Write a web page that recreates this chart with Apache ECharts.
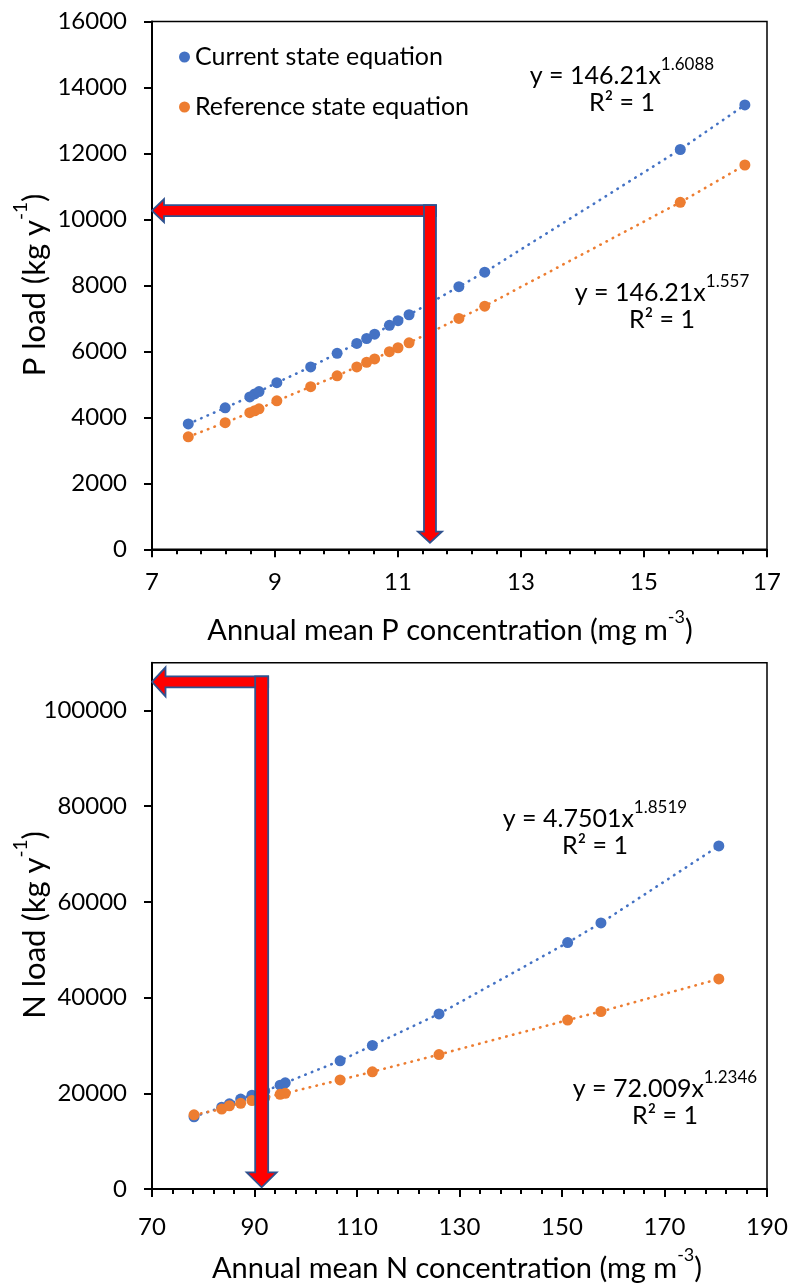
<!DOCTYPE html>
<html><head><meta charset="utf-8">
<script src="https://cdn.jsdelivr.net/npm/echarts@6/dist/echarts.min.js"></script>
<style>html,body{margin:0;padding:0;background:#fff}#c{width:792px;height:1287px}</style>
</head><body><div id="c"></div>
<script>
// ---- data ----
const pConc = [7.59, 8.19, 8.59, 8.67, 8.74, 9.03, 9.58, 10.01, 10.33, 10.49, 10.62, 10.86, 11.00, 11.18, 11.99, 12.41, 15.59, 16.64];
const pLoadCurrent = [3800, 4290, 4620, 4710, 4780, 5050, 5530, 5940, 6240, 6390, 6520, 6790, 6930, 7110, 7960, 8400, 12120, 13470];
const pLoadReference = [3410, 3840, 4140, 4200, 4260, 4500, 4930, 5260, 5530, 5670, 5770, 5990, 6110, 6260, 7000, 7370, 10520, 11650];
const nConc = [78.2, 83.6, 85.1, 87.3, 89.5, 92.0, 95.0, 96.0, 106.7, 113.0, 126.0, 151.1, 157.6, 180.6];
const nLoadCurrent = [15100, 17100, 17800, 18800, 19600, 20500, 21700, 22200, 26800, 30000, 36600, 51500, 55600, 71700];
const nLoadReference = [15500, 16700, 17400, 17900, 18500, 19100, 19800, 20000, 22800, 24500, 28100, 35300, 37100, 43900];

const seriesNames = ['Current state equation', 'Reference state equation'];
const pXTicks = [7, 9, 11, 13, 15, 17];
const pYTicks = [0, 2000, 4000, 6000, 8000, 10000, 12000, 14000, 16000];
const nXTicks = [70, 90, 110, 130, 150, 170, 190];
const nYTicks = [0, 20000, 40000, 60000, 80000, 100000];
const nYMax = 110000;

const eqTop = [['146.21', '1.6088'], ['146.21', '1.557']];
const eqBottom = [['4.7501', '1.8519'], ['72.009', '1.2346']];

// red arrow annotations (in data units)
const pArrow = {x: 11.52, y: 10265, xTip: 7.0, yTip: 200};
const nArrow = {x: 91.4, y: 106000, xTip: 70.0, yTip: 360};

const FONT = 'Lato';
const BLUE = '#4472C4', ORANGE = '#ED7D31';

const chart = echarts.init(document.getElementById('c'), null, {renderer: 'canvas'});

function zip(a, b) { return a.map((v, i) => [v, b[i]]); }
function mkSeries(name, xs, ys, color, gi) {
  return {
    name, type: 'line', xAxisIndex: gi, yAxisIndex: gi,
    data: zip(xs, ys), symbol: 'circle', symbolSize: 11,
    itemStyle: {color}, lineStyle: {color, width: 2.6, type: [0.5, 6.5], cap: 'round'},
    emphasis: {disabled: true}, animation: false
  };
}
function xAxisCfg(ticks, gi, margin) {
  return {
    type: 'value', gridIndex: gi, min: ticks[0], max: ticks[ticks.length - 1],
    interval: ticks[1] - ticks[0],
    axisLine: {show: true, lineStyle: {color: '#000', width: 2}},
    axisTick: {show: true, length: 8, lineStyle: {color: '#000', width: 2}},
    minorTick: {show: true, splitNumber: 5, length: 5, lineStyle: {color: '#000', width: 2}},
    splitLine: {show: false},
    axisLabel: {fontFamily: FONT, fontSize: 24, color: '#000', margin: margin, formatter: v => String(v)}
  };
}
function yAxisCfg(ticks, max, gi) {
  return {
    type: 'value', gridIndex: gi, min: ticks[0], max: max,
    interval: ticks[1] - ticks[0],
    axisLine: {show: true, lineStyle: {color: '#000', width: 2}},
    axisTick: {show: true, length: 8, lineStyle: {color: '#000', width: 2}},
    splitLine: {show: false},
    axisLabel: {fontFamily: FONT, fontSize: 24, color: '#000', margin: 25, showMaxLabel: max === ticks[ticks.length - 1],
      formatter: v => String(v)}
  };
}

chart.setOption({
  animation: false,
  backgroundColor: '#fff',
  grid: [
    {left: 152, top: 21.5, width: 615, height: 527.8, show: true, borderColor: '#000', borderWidth: 1.5, backgroundColor: 'transparent'},
    {left: 152, top: 662.7, width: 615, height: 526.3, show: true, borderColor: '#000', borderWidth: 1.5, backgroundColor: 'transparent'}
  ],
  xAxis: [xAxisCfg(pXTicks, 0, 21), xAxisCfg(nXTicks, 1, 26)],
  yAxis: [yAxisCfg(pYTicks, pYTicks[pYTicks.length - 1], 0), yAxisCfg(nYTicks, nYMax, 1)],
  legend: {
    orient: 'vertical', left: 174, top: 37, icon: 'circle', itemWidth: 11, itemHeight: 11, itemGap: 20,
    data: seriesNames, selectedMode: false,
    textStyle: {fontFamily: FONT, fontSize: 25, color: '#000', lineHeight: 30}
  },
  series: [
    mkSeries(seriesNames[0], pConc, pLoadCurrent, BLUE, 0),
    mkSeries(seriesNames[1], pConc, pLoadReference, ORANGE, 0),
    mkSeries(seriesNames[0], nConc, nLoadCurrent, BLUE, 1),
    mkSeries(seriesNames[1], nConc, nLoadReference, ORANGE, 1)
  ]
});

function eqText(coef, exp, cx, cy) {
  return [
    {type: 'text', x: cx, y: cy, z: 50, style: {
      text: '{n|y = ' + coef + 'x}{s|' + exp + '}', align: 'center', verticalAlign: 'middle',
      rich: {n: {fontFamily: FONT, fontSize: 25, fill: '#000', lineHeight: 32, verticalAlign: 'bottom'},
             s: {fontFamily: FONT, fontSize: 17, fill: '#000', lineHeight: 32, verticalAlign: 'top', padding: [0, 0, 8, 0]}}
    }},
    {type: 'text', x: cx, y: cy + 31, z: 50, style: {
      text: 'R² = 1', align: 'center', verticalAlign: 'middle', fontFamily: FONT, fontSize: 25, fill: '#000'
    }}
  ];
}
function supTitle(main, sup, tail, cx, cy, rot, fs) {
  return {type: 'text', x: cx, y: cy, rotation: rot, z: 50, style: {
    text: '{a|' + main + '}{s|' + sup + '}{a|' + tail + '}', align: 'center', verticalAlign: 'middle',
    rich: {a: {fontFamily: FONT, fontSize: fs, fill: '#000', lineHeight: fs + 8, verticalAlign: 'bottom'},
           s: {fontFamily: FONT, fontSize: Math.round(fs * 0.62), fill: '#000', lineHeight: fs + 8, verticalAlign: 'top', padding: [0, 0, 8, 0]}}
  }};
}
function arrows(gi, a, dims) {
  const c = chart.convertToPixel({gridIndex: gi}, [a.x, a.y]);
  const tipL = chart.convertToPixel({gridIndex: gi}, [a.xTip, a.y]);
  const tipD = chart.convertToPixel({gridIndex: gi}, [a.x, a.yTip]);
  const xc = c[0], yc = c[1];
  const hh = dims.hh, HH = dims.HH, LH = dims.LH, hv = dims.hv, HV = dims.HV, LV = dims.LV;
  const xt = tipL[0], yt = tipD[1];
  const style = {fill: '#FF0000', stroke: '#2F528F', lineWidth: 1.8, lineJoin: 'miter'};
  const horiz = [[xt, yc], [xt + LH, yc - HH], [xt + LH, yc - hh], [xc + hv, yc - hh], [xc + hv, yc + hh], [xt + LH, yc + hh], [xt + LH, yc + HH]];
  const vert = [[xc - hv, yc - hh], [xc + hv, yc - hh], [xc + hv, yt - LV], [xc + HV, yt - LV], [xc, yt], [xc - HV, yt - LV], [xc - hv, yt - LV]];
  return [
    {type: 'polygon', z: 40, shape: {points: horiz}, style},
    {type: 'polygon', z: 41, shape: {points: vert}, style}
  ];
}

const g = [];
g.push(...arrows(0, pArrow, {hh: 5.5, HH: 11.5, LH: 12, hv: 6, HV: 12, LV: 11}));
g.push(...arrows(1, nArrow, {hh: 5.5, HH: 14.5, LH: 13.5, hv: 6.5, HV: 15, LV: 15}));
g.push(...eqText(eqTop[0][0], eqTop[0][1], 622, 72));
g.push(...eqText(eqTop[1][0], eqTop[1][1], 662, 289));
g.push(...eqText(eqBottom[0][0], eqBottom[0][1], 595, 815));
g.push(...eqText(eqBottom[1][0], eqBottom[1][1], 665, 1085));
g.push(supTitle('Annual mean P concentration (mg m', '-3', ')', 450, 627, 0, 29));
g.push(supTitle('Annual mean N concentration (mg m', '-3', ')', 457, 1265, 0, 29));
g.push(supTitle('P load (kg y', '-1', ')', 31, 285, Math.PI / 2, 31));
g.push(supTitle('N load (kg y', '-1', ')', 31, 925, Math.PI / 2, 31));
chart.setOption({graphic: g});
</script>
</body></html>
